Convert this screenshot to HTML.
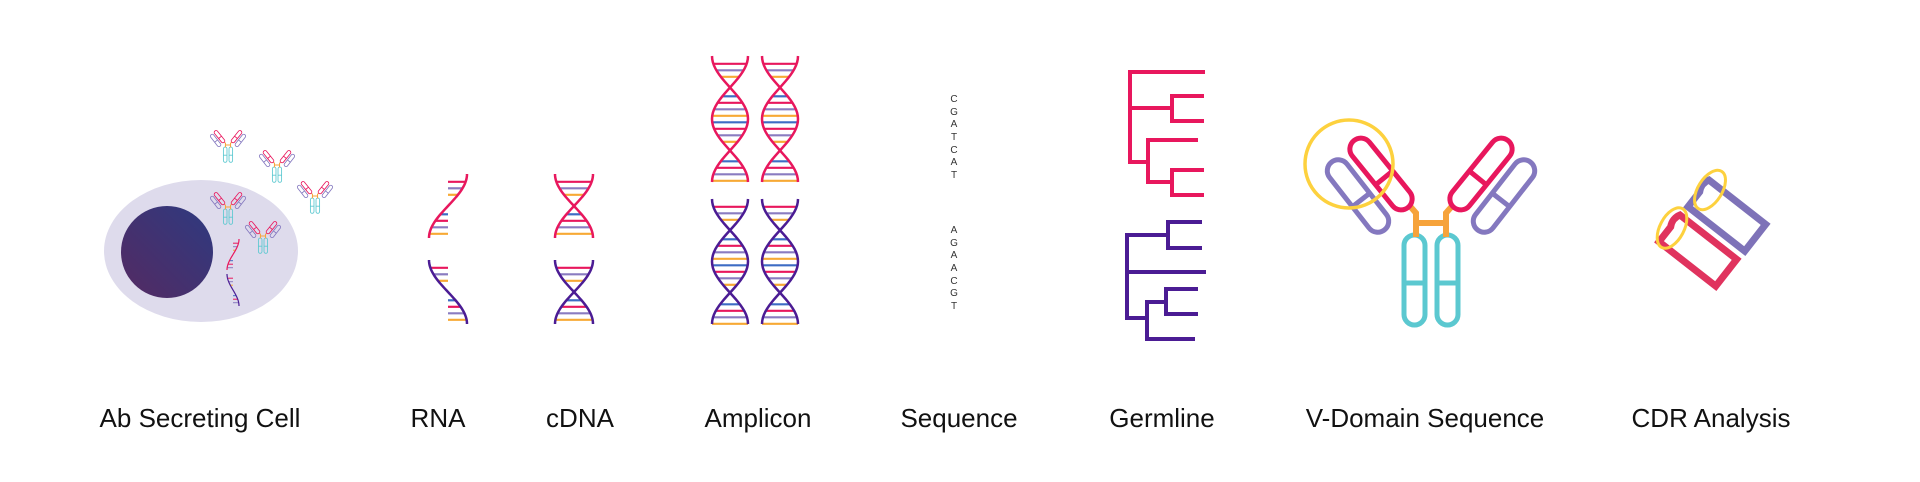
<!DOCTYPE html>
<html><head><meta charset="utf-8"><style>
html,body{margin:0;padding:0;background:#fff;width:1920px;height:482px;overflow:hidden}
svg{position:absolute;left:0;top:0}
.lb{position:absolute;top:403px;font:26px "Liberation Sans",sans-serif;color:#111;white-space:nowrap;transform:translateX(-50%)}
</style></head><body>
<svg id="s" width="1920" height="482" viewBox="0 0 1920 482">
<defs>
<linearGradient id="ng" x1="0" y1="1" x2="1" y2="0"><stop offset="0" stop-color="#542a62"/><stop offset="1" stop-color="#2e3a80"/></linearGradient>
<g id="ab">
 <g fill="none" stroke-width="5">
  <rect x="-27" y="12" width="21" height="90" rx="10.5" stroke="#5bc8d0"/>
  <rect x="6" y="12" width="21" height="90" rx="10.5" stroke="#5bc8d0"/>
  <line x1="-27" y1="60" x2="-6" y2="60" stroke="#5bc8d0"/>
  <line x1="6" y1="60" x2="27" y2="60" stroke="#5bc8d0"/>
  <path d="M-15 0H15M-15 14V-10L-22 -18M15 14V-10L22 -18" stroke="#f6a33b" stroke-width="6"/>
  <g transform="translate(-73,-27) rotate(52)"><rect x="-43" y="-11" width="86" height="22" rx="11" stroke="#8478bf"/><line x1="5" y1="-11" x2="5" y2="11" stroke="#8478bf"/></g>
  <g transform="translate(-50,-49) rotate(51)"><rect x="-43" y="-11" width="86" height="22" rx="11" stroke="#e8175d"/><line x1="5" y1="-11" x2="5" y2="11" stroke="#e8175d"/></g>
  <g transform="translate(73,-27) rotate(-52)"><rect x="-43" y="-11" width="86" height="22" rx="11" stroke="#8478bf"/><line x1="-5" y1="-11" x2="-5" y2="11" stroke="#8478bf"/></g>
  <g transform="translate(50,-49) rotate(-51)"><rect x="-43" y="-11" width="86" height="22" rx="11" stroke="#e8175d"/><line x1="-5" y1="-11" x2="-5" y2="11" stroke="#e8175d"/></g>
 </g>
</g>
</defs>
<ellipse cx="201" cy="251" rx="97" ry="71" fill="#dedbec"/>
<ellipse cx="167" cy="252" rx="46" ry="46" fill="url(#ng)"/>
<use href="#ab" transform="translate(228,145) scale(0.17)"/>
<use href="#ab" transform="translate(277,165) scale(0.17)"/>
<use href="#ab" transform="translate(315,196) scale(0.17)"/>
<use href="#ab" transform="translate(228,207) scale(0.17)"/>
<use href="#ab" transform="translate(263,236) scale(0.17)"/>
<g id="dna"></g>
<g font-family="Liberation Sans,sans-serif" font-size="10" fill="#333" text-anchor="middle">
<text x="954" y="102">C</text><text x="954" y="115">G</text><text x="954" y="127">A</text><text x="954" y="140">T</text><text x="954" y="153">C</text><text x="954" y="165">A</text><text x="954" y="178">T</text>
<text x="954" y="233">A</text><text x="954" y="246">G</text><text x="954" y="258">A</text><text x="954" y="271">A</text><text x="954" y="284">C</text><text x="954" y="296">G</text><text x="954" y="309">T</text>
</g>
<g fill="none" stroke-width="4">
<path d="M1205 72H1130V162H1148M1130 108H1172M1204 96H1172V121H1204M1198 140H1148V182H1172M1204 170H1172V195H1204" stroke="#e8175d"/>
<path d="M1202 222H1168V248H1202M1168 235H1127V318H1147M1127 272H1206M1198 289H1166V314H1198M1166 302H1147V339H1195" stroke="#4b1c94"/>
</g>
<use href="#ab" transform="translate(1431,223)"/>
<circle cx="1349" cy="164" r="44" fill="none" stroke="#fdd13e" stroke-width="3.5"/>
<g fill="none" stroke-width="7">
<g transform="translate(1730,218) rotate(38)"><path d="M-40 -17H32V17H-40V-2A15 15 0 0 1 -40 -17Z" stroke="#7e72b8"/></g>
<g transform="translate(1701,253) rotate(38)"><path d="M-40 -17H32V17H-40V-2A15 15 0 0 1 -40 -17Z" stroke="#e0335e"/></g>
</g>
<ellipse cx="1710" cy="190" rx="12" ry="22" transform="rotate(32 1710 190)" fill="none" stroke="#fdd13e" stroke-width="3"/>
<ellipse cx="1672" cy="228" rx="12" ry="22" transform="rotate(28 1672 228)" fill="none" stroke="#fdd13e" stroke-width="3"/>
</svg>
<div class="lb" style="left:200px">Ab Secreting Cell</div>
<div class="lb" style="left:438px">RNA</div>
<div class="lb" style="left:580px">cDNA</div>
<div class="lb" style="left:758px">Amplicon</div>
<div class="lb" style="left:959px">Sequence</div>
<div class="lb" style="left:1162px">Germline</div>
<div class="lb" style="left:1425px">V-Domain Sequence</div>
<div class="lb" style="left:1711px">CDR Analysis</div>
<script>
var g=document.getElementById('dna'),NS='http://www.w3.org/2000/svg';
var RC=['#e8175d','#8a7cc0','#f7a935','#3d6cc4'];
function el(t,a){var e=document.createElementNS(NS,t);for(var k in a)e.setAttribute(k,a[k]);g.appendChild(e);}
function strand(c,a,y0,y1,n,s,col,sw){var d='';for(var i=0;i<=40;i++){var y=y0+(y1-y0)*i/40;var x=c+s*a*Math.cos(Math.PI*n*(y-y0)/(y1-y0));d+=(i?'L':'M')+x.toFixed(2)+' '+y.toFixed(2);}el('path',{d:d,fill:'none',stroke:col,'stroke-width':sw});}
function helix(c,a,y0,y1,n,col,sw,sp,rw){var k=0;for(var y=y0+sp*1.2;y<=y1+0.1;y+=sp){var v=Math.cos(Math.PI*n*(y-y0)/(y1-y0));if(Math.abs(v)<0.3)continue;var w=a*Math.abs(v);el('line',{x1:c-w,y1:y,x2:c+w,y2:y,stroke:RC[k%4],'stroke-width':rw});k++;}
strand(c,a,y0,y1,n,1,col,sw);strand(c,a,y0,y1,n,-1,col,sw);}
function single(c,a,y0,y1,s,col,sw,sp,rw){var k=0;for(var y=y0+sp*1.2;y<=y1+0.1;y+=sp){var v=s*Math.cos(Math.PI*(y-y0)/(y1-y0));if(Math.abs(v)<0.3)continue;el('line',{x1:c,y1:y,x2:c+a*v,y2:y,stroke:RC[k%4],'stroke-width':rw});k++;}
strand(c,a,y0,y1,1,s,col,sw);}
single(448,19,174,238,1,'#e8175d',2.5,6.5,2.2);
single(448,19,260,324,-1,'#4b1c94',2.5,6.5,2.2);
helix(574,19,174,238,1,'#e8175d',2.5,6.5,2.2);
helix(574,19,260,324,1,'#4b1c94',2.5,6.5,2.2);
helix(730,18,56,182,2,'#e8175d',2.5,6.5,2.2);
helix(780,18,56,182,2,'#e8175d',2.5,6.5,2.2);
helix(730,18,199,324,2,'#4b1c94',2.5,6.5,2.2);
helix(780,18,199,324,2,'#4b1c94',2.5,6.5,2.2);
single(233,6,239,270,1,'#e8175d',1.2,3.5,1);
single(233,6,274,306,-1,'#4b1c94',1.2,3.5,1);
</script>
</body></html>
